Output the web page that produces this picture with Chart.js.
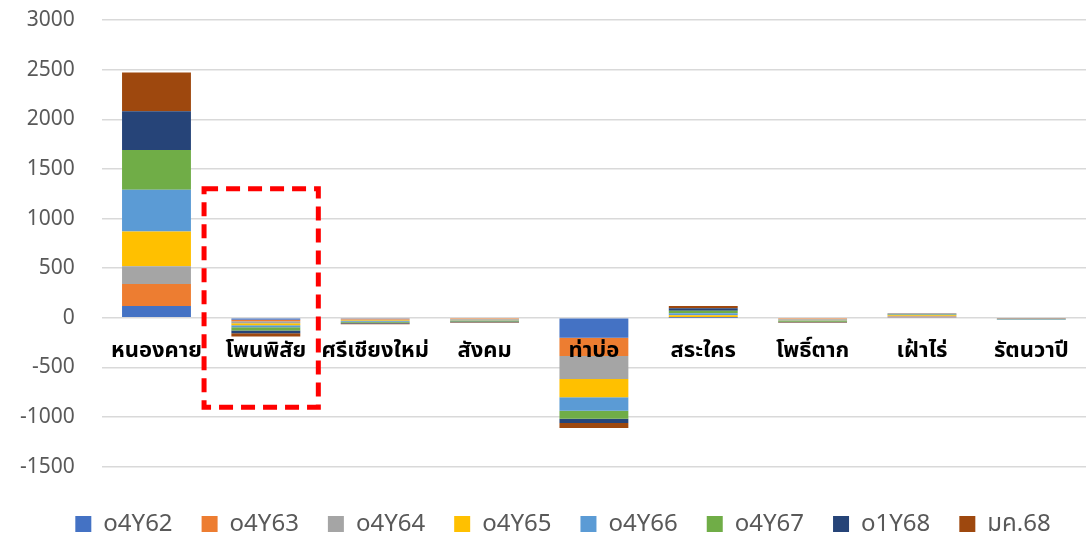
<!DOCTYPE html>
<html>
<head>
<meta charset="utf-8">
<script src="https://cdn.jsdelivr.net/npm/chart.js@4.4.0/dist/chart.umd.min.js"></script>
<style>
  html, body { margin: 0; padding: 0; background: #fff; }
  #wrap { width: 1086px; height: 536px; }
</style>
</head>
<body>
<div id="wrap"><canvas id="stackchart"></canvas></div>
<script>
const districts = ['หนองคาย', 'โพนพิสัย', 'ศรีเชียงใหม่', 'สังคม', 'ท่าบ่อ', 'สระใคร', 'โพธิ์ตาก', 'เฝ้าไร่', 'รัตนวาปี'];

const o4Y62 = [120, -20, -8, -6, -200, 2, -6, 5, -3];
const o4Y63 = [220, -15, -8, -6, -185, 2, -6, 5, -3];
const o4Y64 = [180, -20, -8, -6, -230, 3, -6, 8, -3];
const o4Y65 = [350, -20, -8, -6, -185, 20, -6, 8, -3];
const o4Y66 = [420, -20, -8, -6, -135, 20, -6, 5, -2];
const o4Y67 = [400, -33, -8, -6, -80, 25, -8, 5, -2];
const o1Y68 = [390, -27, -8, -7, -45, 25, -6, 5, -2];
const mk68 = [390, -33, -8, -7, -50, 23, -6, 4, -2];

const yTicks = [3000, 2500, 2000, 1500, 1000, 500, 0, -500, -1000, -1500];

// dashed box around โพนพิสัย (in data units)
const highlight = { index: 1, left: -0.565, right: 0.48, top: 1300, bottom: -900 };

const font = "'Noto Sans', 'Noto Sans Thai', 'Loma', sans-serif";

const boxPlugin = {
  id: 'highlightBox',
  afterDatasetsDraw(chart) {
    const x = chart.scales.x, y = chart.scales.y;
    const ctx = chart.ctx;
    const step = x.getPixelForValue(1) - x.getPixelForValue(0);
    const cx = x.getPixelForValue(highlight.index);
    const l = cx + highlight.left * step;
    const r = cx + highlight.right * step;
    const t = y.getPixelForValue(highlight.top);
    const b = y.getPixelForValue(highlight.bottom);
    ctx.save();
    ctx.strokeStyle = '#ff0000';
    ctx.lineWidth = 5;
    ctx.setLineDash([14, 8]);
    ctx.strokeRect(l, t, r - l, b - t);
    ctx.restore();
  }
};

// nudge the legend a little to the right, like the original
const legendShift = {
  id: 'legendShift',
  afterLayout(chart) {
    chart.legend.left += 8;
    chart.legend.right += 8;
  }
};

const ctx = document.getElementById('stackchart').getContext('2d');
const chart = new Chart(ctx, {
  type: 'bar',
  data: {
    labels: districts,
    datasets: [
      { label: 'o4Y62', data: o4Y62, backgroundColor: '#4472C4' },
      { label: 'o4Y63', data: o4Y63, backgroundColor: '#ED7D31' },
      { label: 'o4Y64', data: o4Y64, backgroundColor: '#A5A5A5' },
      { label: 'o4Y65', data: o4Y65, backgroundColor: '#FFC000' },
      { label: 'o4Y66', data: o4Y66, backgroundColor: '#5B9BD5' },
      { label: 'o4Y67', data: o4Y67, backgroundColor: '#70AD47' },
      { label: 'o1Y68', data: o1Y68, backgroundColor: '#264478' },
      { label: 'มค.68', data: mk68, backgroundColor: '#9E480E' }
    ]
  },
  options: {
    responsive: true,
    maintainAspectRatio: false,
    animation: false,
    datasets: { bar: { barPercentage: 1, categoryPercentage: 0.63 } },
    layout: { padding: { top: 20, left: 20, right: -4, bottom: -10 } },
    scales: {
      x: {
        stacked: true,
        position: { y: 0 },
        afterFit(scale) { scale.height = 0; },
        grid: { display: false },
        border: { display: false },
        ticks: {
          z: 1,
          padding: 12,
          autoSkip: false,
          maxRotation: 0,
          minRotation: 0,
          color: '#000',
          font: { family: font, size: 22, weight: 'bold' }
        }
      },
      y: {
        stacked: true,
        min: -1500,
        max: 3000,
        afterBuildTicks(scale) {
          scale.ticks = yTicks.map(v => ({ value: v }));
        },
        grid: { color: '#d9d9d9', lineWidth: 1.5, tickLength: 27, tickColor: 'rgba(0,0,0,0)' },
        border: { display: false },
        ticks: {
          padding: 0,
          color: '#595959',
          font: { family: font, size: 21 },
          callback: v => String(v)
        }
      }
    },
    plugins: {
      legend: {
        position: 'bottom',
        title: { display: true, text: '', font: { size: 1 }, padding: { top: 15, bottom: 0 } },
        labels: {
          boxWidth: 16,
          boxHeight: 16,
          padding: 29,
          color: '#595959',
          font: { family: font, size: 24 }
        }
      },
      tooltip: { enabled: false }
    }
  },
  plugins: [boxPlugin, legendShift]
});
</script>
</body>
</html>
